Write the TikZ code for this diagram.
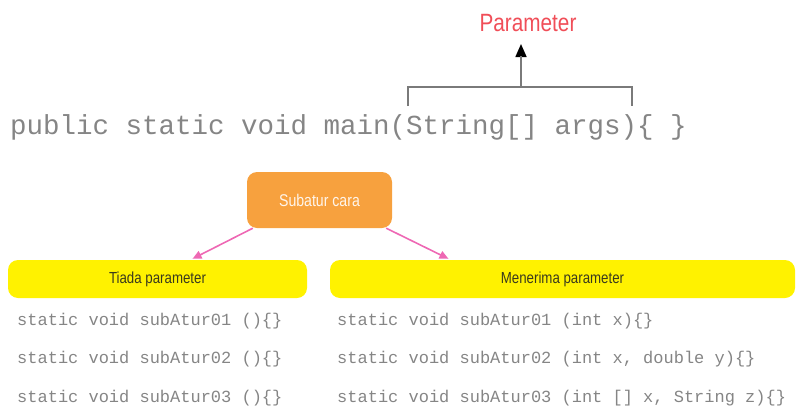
\documentclass[tikz,border=0pt]{standalone}
\usepackage{fontspec}
\setmonofont{Liberation Mono}
\newfontfamily\condfont[FakeStretch=0.83]{Liberation Sans}
\usetikzlibrary{arrows.meta,calc}
\definecolor{codegray}{HTML}{858585}
\definecolor{brgray}{HTML}{7A7A7A}
\definecolor{paramred}{HTML}{F04E58}
\definecolor{boxorange}{HTML}{F7A13E}
\definecolor{boxyellow}{HTML}{FFF200}
\definecolor{arrpink}{HTML}{EE68B4}
\definecolor{labdark}{HTML}{3A3A1E}
\tikzset{
  codeline/.style={anchor=base west, inner sep=0pt, text=codegray, font=\ttfamily\fontsize{17}{17}\selectfont},
  yelbox/.style={fill=boxyellow, draw=none, rounded corners=10pt, minimum height=38pt, inner sep=0pt, text=labdark, font=\condfont\fontsize{16}{16}\selectfont},
  orbox/.style={fill=boxorange, draw=none, rounded corners=10pt, minimum width=145pt, minimum height=56pt, inner sep=0pt, text=white!92!orange, font=\condfont\fontsize{17}{17}\selectfont},
  pinkarrow/.style={draw=arrpink, line width=1.6pt, -{Triangle[length=9pt,width=8pt]}},
  bracketline/.style={draw=brgray, line width=1.6pt}
}
\begin{document}
\begin{tikzpicture}[x=1pt,y=-1pt]
\useasboundingbox (0,0) rectangle (796,410);
% main signature
\node[anchor=base west, inner sep=0pt, text=codegray, font=\ttfamily\fontsize{27.5}{27.5}\selectfont] (main) at (10,134) {public static void main(String[] args)\{ \}};
% Parameter label
\node[inner sep=0pt, text=paramred, font=\condfont\fontsize{25}{25}\selectfont] (param) at (528,23) {Parameter};
% bracket
\coordinate (bl) at (408,106);
\coordinate (br) at (632,106);
\coordinate (bm) at (521,87);
\draw[bracketline] (bl) -- (408,87) -- (632,87) -- (br);
\coordinate (ptip) at (521,44);
\draw[bracketline, draw=brgray, -{Triangle[length=13pt,width=11pt]}, color=black] (bm) -- (ptip);
\draw[bracketline] (bm) -- (521,56);
% orange box
\node[orbox] (sub) at (319.5,200) {Subatur cara};
% yellow boxes
\node[yelbox, minimum width=299pt] (tiada) at (157.5,279) {Tiada parameter};
\node[yelbox, minimum width=465pt] (terima) at (562.5,279) {Menerima parameter};
% pink arrows
\draw[pinkarrow] ([xshift=6pt]sub.south west) -- ([xshift=35pt,yshift=1pt]tiada.north);
\draw[pinkarrow] ([xshift=-6pt]sub.south east) -- ([xshift=-114pt,yshift=1pt]terima.north);
% code lines
\node[codeline] (l1) at (17,325) {static void subAtur01 ()\{\}};
\node[codeline] (l2) at (17,363) {static void subAtur02 ()\{\}};
\node[codeline] (l3) at (17,402) {static void subAtur03 ()\{\}};
\node[codeline] (r1) at (337,325) {static void subAtur01 (int x)\{\}};
\node[codeline] (r2) at (337,363) {static void subAtur02 (int x, double y)\{\}};
\node[codeline] (r3) at (337,402) {static void subAtur03 (int [] x, String z)\{\}};
\end{tikzpicture}
\end{document}
